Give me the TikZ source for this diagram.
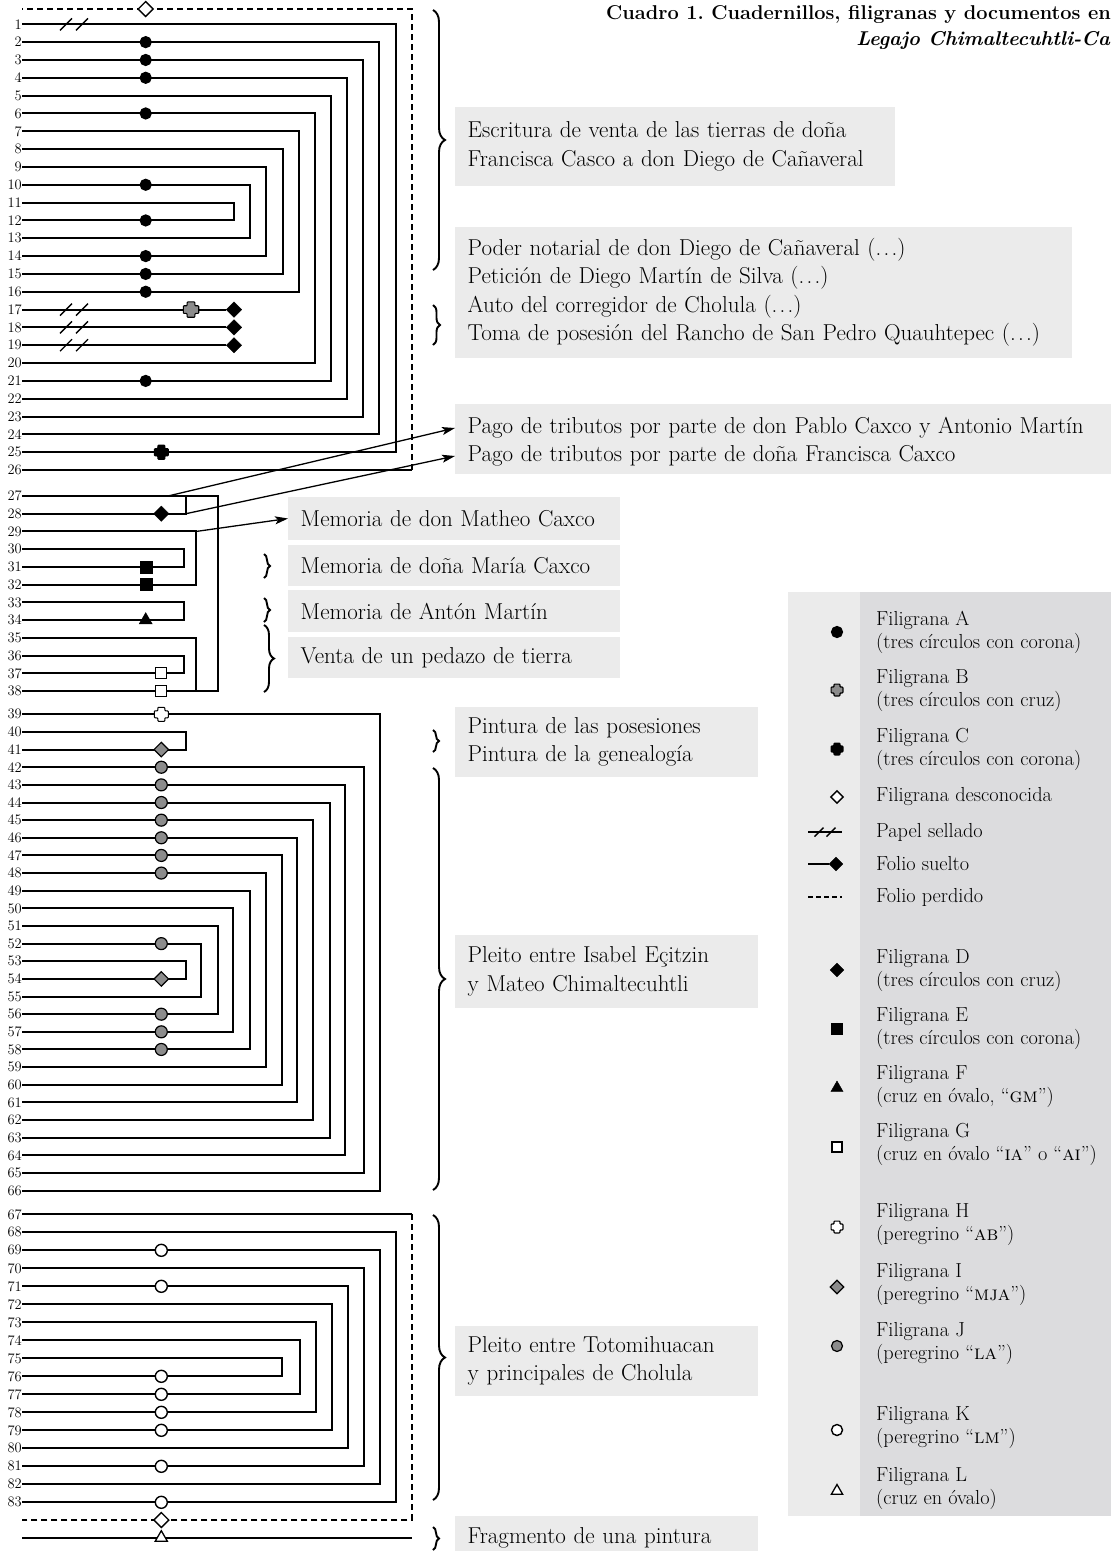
\documentclass[tikz,border=0pt]{standalone}
\usetikzlibrary{arrows,arrows.meta}
\usetikzlibrary{positioning,shapes,decorations.pathreplacing}

\definecolor{cajagris}{HTML}{EBEBEB}
\definecolor{leygris}{HTML}{DCDCDE}
\definecolor{filgris}{HTML}{8C8C8C}
\frenchspacing
\newcommand{\puntos}{(.\kern.1em.\kern.1em.)}

\begin{document}
\begin{tikzpicture}[%
      x=1pt, y=-1pt, >={Stealth[length=13pt, width=8pt, inset=3pt]},
      num/.style={anchor=east, inner sep=0pt, font=\fontsize{14.5}{14.5}\selectfont},
      hoja/.style={line width=2pt},
      perdido/.style={line width=2pt, dash pattern=on 6pt off 4pt},
      flecha/.style={->, line width=1.3pt},
      marca/.style={inner sep=0pt, draw=black, line width=1.2pt},
      filA/.style={marca, circle, fill=black, minimum size=11pt},
      filD/.style={marca, diamond, fill=black, minimum size=15.5pt, line width=0.4pt},
      filE/.style={marca, rectangle, fill=black, minimum size=12pt, line width=0.4pt},
      filF/.style={marca, regular polygon, regular polygon sides=3, fill=black, minimum size=15pt, line width=0.4pt},
      filG/.style={marca, rectangle, fill=white, minimum size=11pt},
      filI/.style={marca, diamond, fill=filgris, minimum size=15pt},
      filJ/.style={marca, circle, fill=filgris, minimum size=12pt},
      filK/.style={marca, circle, fill=white, minimum size=12pt, line width=1.4pt},
      filL/.style={marca, regular polygon, regular polygon sides=3, fill=white, minimum size=14pt, line width=1.3pt},
      desc/.style={marca, diamond, fill=white, minimum size=15.5pt, line width=1.4pt},
      cruz/.pic={\filldraw[pic actions, line width=1.1pt, rounded corners=0.8pt]
        (-3.5,-7) -- (3.5,-7) -- (3.5,-3.5) -- (7,-3.5) -- (7,3.5) -- (3.5,3.5)
        -- (3.5,7) -- (-3.5,7) -- (-3.5,3.5) -- (-7,3.5) -- (-7,-3.5) -- (-3.5,-3.5) -- cycle;},
      sello/.pic={\draw[line width=1.4pt] (-14,6) -- (-2,-6) (2,6) -- (14,-6);},
      caja/.style={fill=cajagris, anchor=west, align=left, inner xsep=12.5pt, inner ysep=0pt,
        text width=#1, font=\fontsize{23}{28.5}\selectfont},
      llave/.style={decorate, decoration={brace, amplitude=#1}, line width=1.9pt},
      ley/.style={anchor=west, align=left, inner sep=0pt, font=\fontsize{20.3}{23}\selectfont}
    ]
    \useasboundingbox (0,0) rectangle (1111,1551);

    % titulo
    \node[anchor=east, inner sep=0pt, font=\fontsize{20}{24}\selectfont\bfseries] (titulo1) at (1111,15)
      {Cuadro 1. Cuadernillos, filigranas y documentos en};
    \node[anchor=east, inner sep=0pt, font=\fontsize{20}{24}\selectfont\bfseries\itshape] (titulo2) at (1110,40)
      {Legajo Chimaltecuhtli-Ca};

    % numeros de folio
    \foreach \n in {1,...,26} \node[num] (l\n) at (22,{24.3+(\n-1)*17.83}) {\n};
    \foreach \n in {27,...,38} \node[num] (l\n) at (22,{496+(\n-27)*17.73}) {\n};
    \foreach \n in {39,...,66} \node[num] (l\n) at (22,{714.3+(\n-39)*17.64}) {\n};
    \foreach \n in {67,...,83} \node[num] (l\n) at (22,{1214.3+(\n-67)*18}) {\n};

    % cuadernillo 1
    \foreach \a/\b/\x in {1/25/395.7, 2/24/379.3, 3/23/363, 4/22/347, 5/21/331, 6/20/314.7,
        7/16/298.7, 8/15/282.7, 9/14/266.3, 10/13/250, 11/12/233.7}
      \draw[hoja] (l\a.east) -| (l\b.east -| \x,0) -- (l\b.east);
    \coordinate (pa) at (22,9);
    \coordinate (pb) at (411.7,9);
    \coordinate (pc) at (l26.east -| 411.7,0);
    \draw[hoja] (l26.east) -- (pc);
    \draw[perdido] (pc) -- (pb) -- (pa);
    \node[desc] (u1) at (145.7,9) {};
    \foreach \n in {17,18,19} {
      \node[filD] (d\n) at (l\n.east -| 234,0) {};
      \draw[hoja] (l\n.east) -- (d\n);
    }
    \foreach \n in {1,17,18,19} \pic at (l\n.east -| 74,0) {sello};
    \foreach \n in {2,3,4,6,10,12,14,15,16,21} \node[filA] (s\n) at (l\n.east -| 145.7,0) {};
    \pic[fill=filgris, scale=1.1] at (l17.east -| 191,0) {cruz};
    \pic[fill=black] at (l25.east -| 161.3,0) {cruz};

    % cuadernillo 2
    \draw[hoja] (l27.east) -| (l38.east -| 217.7,0) -- (l38.east);
    \draw[hoja] (l28.east) -| (l27.east -| 185.7,0);
    \foreach \a/\b/\x in {29/32/196, 30/31/184.3, 33/34/184.3, 35/38/196, 36/37/184.3}
      \draw[hoja] (l\a.east) -| (l\b.east -| \x,0) -- (l\b.east);
    \node[filD] (s28) at (l28.east -| 161.3,0) {};
    \foreach \n in {31,32} \node[filE] (s\n) at (l\n.east -| 145.7,0) {};
    \node[filF] (s34) at (l34.east -| 145.7,0) {};
    \foreach \n in {37,38} \node[filG] (s\n) at (l\n.east -| 161.3,0) {};

    % cuadernillo 3
    \foreach \a/\b/\x in {39/66/380, 40/41/185.7, 42/65/364, 43/64/345, 44/63/329.7, 45/62/313.3,
        46/61/297.3, 47/60/281.7, 48/59/265.7, 49/58/249.7, 50/57/233.3, 51/56/217.7,
        52/55/201.3, 53/54/185.7}
      \draw[hoja] (l\a.east) -| (l\b.east -| \x,0) -- (l\b.east);
    \pic[fill=white, line width=1.5pt] at (l39.east -| 161.3,0) {cruz};
    \foreach \n in {41,54} \node[filI] (s\n) at (l\n.east -| 161.3,0) {};
    \foreach \n in {42,...,48,52,56,57,58} \node[filJ] (s\n) at (l\n.east -| 161.3,0) {};

    % cuadernillo 4
    \coordinate (q1) at (l67.east -| 411.7,0);
    \coordinate (q2) at (411.7,1520);
    \coordinate (q3) at (22,1520);
    \draw[hoja] (l67.east) -- (q1);
    \draw[perdido] (q1) -- (q2) -- (q3);
    \foreach \a/\b/\x in {68/83/395.7, 69/82/380, 70/81/364, 71/80/348, 72/79/332.3,
        73/78/316, 74/77/300, 75/76/281.7}
      \draw[hoja] (l\a.east) -| (l\b.east -| \x,0) -- (l\b.east);
    \foreach \n in {69,71,76,77,78,79,81,83} \node[filK] (s\n) at (l\n.east -| 161.3,0) {};
    \node[desc] (u2) at (161.3,1520) {};

    % fragmento
    \coordinate (r1) at (22,1537.7);
    \coordinate (r2) at (411.7,1537.7);
    \draw[hoja] (r1) -- (r2);
    \node[filL] (sL) at (161.3,1537.7) {};

    % documentos
    \node[caja=415pt, minimum height=79pt] (escritura) at (455,146.5)
      {Escritura de venta de las tierras de doña\\Francisca Casco a don Diego de Cañaveral};
    \node[caja=592pt, minimum height=131pt] (poder) at (455,292.5)
      {Poder notarial de don Diego de Cañaveral \puntos\\Petición de Diego Martín de Silva \puntos\\
       Auto del corregidor de Cholula \puntos\\Toma de posesión del Rancho de San Pedro Quauhtepec \puntos};
    \node[caja=670pt, minimum height=48pt] (pago1) at (455,428)
      {Pago de tributos por parte de don Pablo Caxco y Antonio Martín};
    \node[caja=670pt, minimum height=36pt] (pago2) at (455,456)
      {Pago de tributos por parte de doña Francisca Caxco};
    \node[caja=307pt, minimum height=43pt] (matheo) at (288,518.5) {Memoria de don Matheo Caxco};
    \node[caja=307pt, minimum height=41pt] (maria) at (288,565.5) {Memoria de doña María Caxco};
    \node[caja=307pt, minimum height=42pt] (anton) at (288,611) {Memoria de Antón Martín};
    \node[caja=307pt, minimum height=41pt] (venta) at (288,657.5) {Venta de un pedazo de tierra};
    \node[caja=278pt, minimum height=70pt] (pintura) at (455,742)
      {Pintura de las posesiones\\Pintura de la genealogía};
    \node[caja=278pt, minimum height=73pt] (pleito1) at (455,971.5)
      {Pleito entre Isabel Eçitzin\\y Mateo Chimaltecuhtli};
    \node[caja=278pt, minimum height=70pt] (pleito2) at (455,1361)
      {Pleito entre Totomihuacan\\y principales de Cholula};
    \node[caja=278pt, minimum height=44pt] (fragmento) at (455,1538) {Fragmento de una pintura};

    % llaves
    \draw[llave=12pt] (433,10) -- (433,270);
    \draw[llave=7pt] (433,305) -- (433,345);
    \draw[llave=6pt] (264,554) -- (264,578);
    \draw[llave=6pt] (264,598) -- (264,622);
    \draw[llave=10pt] (264,625) -- (264,692);
    \draw[llave=6pt] (433,730) -- (433,752);
    \draw[llave=12pt] (433,768) -- (433,1190);
    \draw[llave=12pt] (433,1215) -- (433,1500);
    \draw[llave=6pt] (433,1527) -- (433,1550);

    % flechas
    \coordinate (a27) at (l27.east -| 168,0);
    \coordinate (a28) at (l28.east -| 185.7,0);
    \coordinate (a29) at (l29.east -| 196,0);
    \draw[flecha] (a27) -- (pago1.west);
    \draw[flecha] (a28) -- (pago2.west);
    \draw[flecha] (a29) -- (matheo.west);

    % leyenda
    \fill[cajagris] (788,592) rectangle (860,1516);
    \fill[leygris] (860,592) rectangle (1111,1516);
    \node[filA] (kA) at (837,632) {};
    \node[ley] (tA) at (876,632) {Filigrana A\\(tres círculos con corona)};
    \pic[fill=filgris, scale=0.85] at (837,690) {cruz};
    \node[ley] (tB) at (876,690) {Filigrana B\\(tres círculos con cruz)};
    \pic[fill=black, scale=0.85] at (837,749) {cruz};
    \node[ley] (tC) at (876,749) {Filigrana C\\(tres círculos con corona)};
    \node[desc, minimum size=13pt] (kU) at (837,797) {};
    \node[ley] (tU) at (876,797) {Filigrana desconocida};
    \coordinate (ks1) at (808,832);
    \coordinate (ks2) at (842,832);
    \draw[line width=1.4pt] (ks1) -- (ks2);
    \pic[scale=0.75] at (825,832) {sello};
    \node[ley] (tS) at (876,832) {Papel sellado};
    \node[filD, minimum size=14pt] (kS) at (836,864) {};
    \coordinate (ks3) at (808,864);
    \draw[hoja] (ks3) -- (kS);
    \node[ley] (tF) at (876,864) {Folio suelto};
    \coordinate (kp1) at (808,897);
    \coordinate (kp2) at (842,897);
    \draw[perdido, dash pattern=on 5pt off 3pt] (kp1) -- (kp2);
    \node[ley] (tP) at (876,897) {Folio perdido};
    \node[filD, minimum size=14pt] (kD) at (837,970) {};
    \node[ley] (tD) at (876,970) {Filigrana D\\(tres círculos con cruz)};
    \node[filE, minimum size=11pt] (kE) at (837,1029) {};
    \node[ley] (tE) at (876,1028) {Filigrana E\\(tres círculos con corona)};
    \node[filF, minimum size=14pt] (kF) at (837,1088) {};
    \node[ley] (tFF) at (876,1086) {Filigrana F\\(cruz en óvalo, “\textsc{gm}”)};
    \node[filG, minimum size=10pt] (kG) at (837,1147) {};
    \node[ley] (tG) at (876,1144) {Filigrana G\\(cruz en óvalo “\textsc{ia}” o “\textsc{ai}”)};
    \pic[fill=white, line width=1.5pt, scale=0.85] at (837,1227) {cruz};
    \node[ley] (tH) at (876,1224) {Filigrana H\\(peregrino “\textsc{ab}”)};
    \node[filI, minimum size=14pt] (kI) at (837,1287) {};
    \node[ley] (tI) at (876,1284) {Filigrana I\\(peregrino “\textsc{mja}”)};
    \node[filJ, minimum size=11pt] (kJ) at (837,1346) {};
    \node[ley] (tJ) at (876,1343) {Filigrana J\\(peregrino “\textsc{la}”)};
    \node[filK, minimum size=11pt] (kK) at (837,1430) {};
    \node[ley] (tK) at (876,1427) {Filigrana K\\(peregrino “\textsc{lm}”)};
    \node[filL, minimum size=13pt] (kL) at (837,1491) {};
    \node[ley] (tL) at (876,1488) {Filigrana L\\(cruz en óvalo)};
  \end{tikzpicture}
\end{document}
